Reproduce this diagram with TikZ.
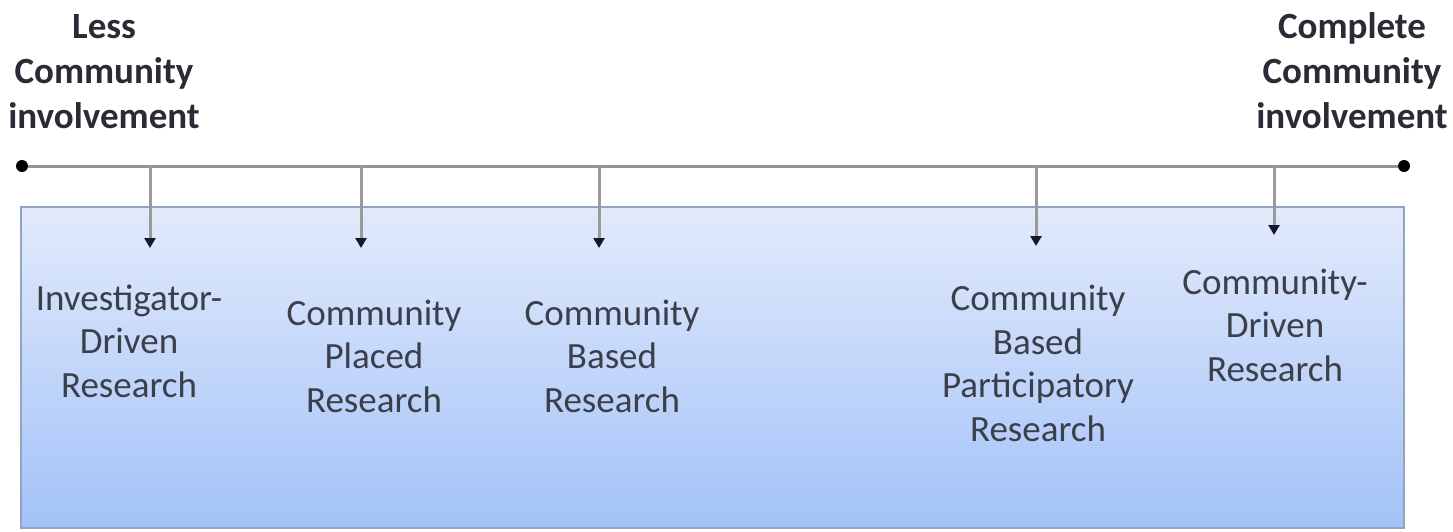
\documentclass[tikz,border=0pt]{standalone}
\usepackage{fontspec}
\setmainfont{Carlito}
\usetikzlibrary{arrows.meta}
\definecolor{txt}{HTML}{3A3F4A}
\definecolor{linegray}{HTML}{939393}
\definecolor{stemgray}{HTML}{9A9A9A}
\definecolor{tipcol}{HTML}{15182A}
\definecolor{boxtop}{HTML}{E2EAFB}
\definecolor{boxbot}{HTML}{A3C2F8}
\definecolor{boxedge}{HTML}{93A4C2}
\tikzset{
  body/.style={align=center, inner sep=0pt, anchor=base, text=txt,
    font=\fontsize{37}{43.5}\selectfont},
  endlabel/.style={align=center, inner sep=0pt, anchor=base, text=txt!70!black,
    font=\fontsize{37}{45}\selectfont\bfseries},
  pointer/.style={draw=stemgray, line width=3pt,
    -{Triangle[length=10pt,width=11pt,color=tipcol]}},
  enddot/.style={circle, fill=black, inner sep=0pt, minimum size=12pt},
}
\begin{document}
\begin{tikzpicture}[x=1pt,y=-1pt]
\useasboundingbox (0,0) rectangle (1453,531);
% shaded box
\shade[top color=boxtop, bottom color=boxbot, draw=boxedge, line width=2.5pt]
  (21,207) rectangle (1404,528);
% axis
\node[enddot] (L) at (22,166) {};
\node[enddot] (R) at (1404,166) {};
\draw[draw=linegray, line width=3pt] (L) -- (R);
% pointer origins and targets
\coordinate (s1) at (150,166);  \coordinate (t1) at (150,248);
\coordinate (s2) at (361,166);  \coordinate (t2) at (361,248);
\coordinate (s3) at (599,166);  \coordinate (t3) at (599,248);
\coordinate (s4) at (1036,166); \coordinate (t4) at (1036,246);
\coordinate (s5) at (1274,166); \coordinate (t5) at (1274,235);
\foreach \i in {1,...,5} \draw[pointer] (s\i) -- (t\i);
% end labels
\node[endlabel] (less) at (104,128) {Less\\Community\\involvement};
\node[endlabel] (full) at (1352,128) {Complete\\Community\\involvement};
% category labels
\node[body] (idr) at (129,397) {Investigator-\\Driven\\Research};
\node[body] (cpr) at (374,412) {Community\\Placed\\Research};
\node[body] (cbr) at (612,412) {Community\\Based\\Research};
\node[body] (cbpr) at (1038,441) {Community\\Based\\Participatory\\Research};
\node[body] (cdr) at (1275,381) {Community-\\Driven\\Research};
\end{tikzpicture}
\end{document}
